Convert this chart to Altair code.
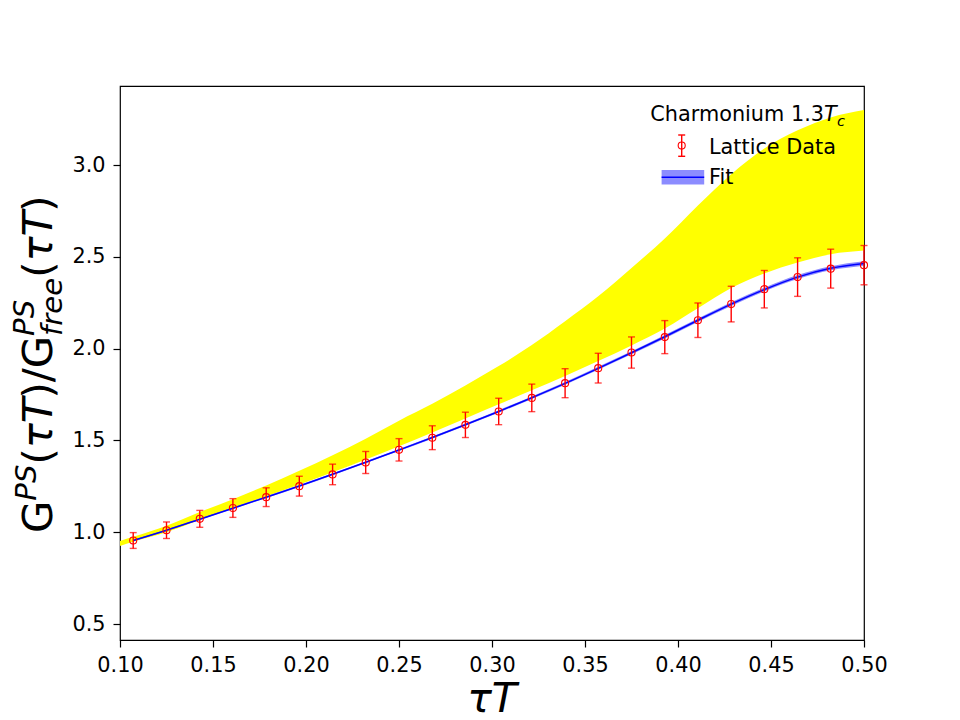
import altair as alt
import pandas as pd

# ---------------- data ----------------
tau = [0.1071, 0.1250, 0.1429, 0.1607, 0.1786, 0.1964, 0.2143, 0.2321, 0.2500,
       0.2679, 0.2857, 0.3036, 0.3214, 0.3393, 0.3571, 0.3750, 0.3929, 0.4107,
       0.4286, 0.4464, 0.4643, 0.4821, 0.5000]
g_ratio = [0.955, 1.011, 1.073, 1.132, 1.191, 1.251, 1.315, 1.380, 1.449, 1.515,
           1.585, 1.658, 1.732, 1.812, 1.894, 1.979, 2.063, 2.155, 2.243, 2.324,
           2.390, 2.436, 2.455]
g_err = [0.043, 0.045, 0.046, 0.051, 0.051, 0.054, 0.056, 0.060, 0.061, 0.065,
         0.069, 0.072, 0.075, 0.079, 0.081, 0.085, 0.090, 0.094, 0.097, 0.102,
         0.105, 0.106, 0.107]
fit_val = [0.955, 1.011, 1.071, 1.131, 1.191, 1.252, 1.316, 1.381, 1.448, 1.516,
           1.586, 1.658, 1.733, 1.811, 1.893, 1.978, 2.065, 2.155, 2.243, 2.322,
           2.390, 2.438, 2.464]
fit_err = [0.004, 0.004, 0.004, 0.004, 0.005, 0.005, 0.005, 0.005, 0.006, 0.006,
           0.006, 0.007, 0.007, 0.007, 0.008, 0.008, 0.009, 0.009, 0.010, 0.010,
           0.011, 0.011, 0.012]
band_tau = [0.1000] + tau
band_lo = [0.925, 0.948, 1.000, 1.068, 1.133, 1.196, 1.260, 1.327, 1.396, 1.468,
           1.543, 1.620, 1.697, 1.773, 1.851, 1.933, 2.018, 2.110, 2.220, 2.330,
           2.410, 2.470, 2.515, 2.535]
band_hi = [0.953, 0.975, 1.035, 1.110, 1.180, 1.255, 1.335, 1.420, 1.510, 1.608,
           1.700, 1.800, 1.905, 2.020, 2.150, 2.285, 2.440, 2.600, 2.780, 2.950,
           3.090, 3.190, 3.260, 3.300]
x_ticks = [0.10, 0.15, 0.20, 0.25, 0.30, 0.35, 0.40, 0.45, 0.50]
y_ticks = [0.5, 1.0, 1.5, 2.0, 2.5, 3.0]
legend_title = "Charmonium 1.3"
legend_labels = ["Lattice Data", "Fit"]

# ---------------- tables ----------------
pts = pd.DataFrame({"tau": tau, "g": g_ratio, "err": g_err})
pts["lo"] = pts["g"] - pts["err"]
pts["hi"] = pts["g"] + pts["err"]
fit = pd.DataFrame({"tau": tau, "fit": fit_val, "e": fit_err})
fit["lo"] = fit["fit"] - fit["e"]
fit["hi"] = fit["fit"] + fit["e"]
band = pd.DataFrame({"tau": band_tau, "lo": band_lo, "hi": band_hi})
one = pd.DataFrame({"k": [0]})

FONT = "DejaVu Sans"
W, H = 744, 554
xs = alt.Scale(domain=[0.1, 0.5], nice=False, zero=False)
ys = alt.Scale(domain=[0.413, 3.431], nice=False, zero=False)

xax = alt.Axis(values=x_ticks, format=".2f", grid=False, domain=False,
               tickSize=7, tickWidth=1.2, tickColor="black",
               labelFont=FONT, labelFontSize=20.8, labelColor="black",
               labelPadding=8, labelFlush=False, labelOverlap=False)
yax = alt.Axis(values=y_ticks, format=".1f", grid=False, domain=False,
               tickSize=7, tickWidth=1.2, tickColor="black",
               labelFont=FONT, labelFontSize=20.8, labelColor="black",
               labelPadding=8, labelOverlap=False)

X = lambda f: alt.X(f"{f}:Q", scale=xs, axis=xax, title=None)
Y = lambda f: alt.Y(f"{f}:Q", scale=ys, axis=yax, title=None)

yellow = alt.Chart(band).mark_area(color="#ffff00", opacity=1,
                                   interpolate="monotone").encode(
    x=X("tau"), y=Y("hi"), y2="lo")
fitband = alt.Chart(fit).mark_area(color="#0000ff", opacity=0.45,
                                   interpolate="monotone").encode(
    x=X("tau"), y=Y("hi"), y2="lo")
fitline = alt.Chart(fit).mark_line(color="#0000ff", strokeWidth=1.5,
                                   interpolate="monotone").encode(
    x=X("tau"), y=Y("fit"))
ebar = alt.Chart(pts).mark_rule(color="#ff0000", strokeWidth=1.4).encode(
    x=X("tau"), y=Y("lo"), y2="hi")
cap_lo = alt.Chart(pts).mark_tick(color="#ff0000", orient="horizontal",
                                  size=7, thickness=1.4).encode(
    x=X("tau"), y=Y("lo"))
cap_hi = alt.Chart(pts).mark_tick(color="#ff0000", orient="horizontal",
                                  size=7, thickness=1.4).encode(
    x=X("tau"), y=Y("hi"))
points = alt.Chart(pts).mark_point(shape="circle", filled=False, color="#ff0000",
                                   size=50, strokeWidth=1.1, opacity=1).encode(
    x=X("tau"), y=Y("g"))

# ---------------- text helpers ----------------
def txt(s, x, y, size, style="normal", align="left", angle=0):
    return alt.Chart(one).mark_text(
        font=FONT, fontSize=size, fontStyle=style, align=align,
        baseline="alphabetic", color="black", angle=angle
    ).encode(x=alt.value(x), y=alt.value(y), text=alt.value(s))

# x title
xtitle = txt("τT", W / 2, 626, 41, style="italic", align="center")

# y title: G^{PS}(τT)/G^{PS}_{free}(τT), rotated
big, small = 41.7, 29.2
em = {"G": .775, "P": .603, "S": .635, "(": .390, ")": .390, "/": .337,
      "f": .352, "r": .411, "e": .615, "τ": .58, "T": .611}
wid = lambda s, sz: sum(em[c] for c in s) * sz
base_x, sup_x, sub_x = -68, -84, -58
ypos = 447.0
ytitle_layers = []
for s, kind, style in [("G", "main", "normal"), ("PS", "sup", "italic"),
                       ("(", "main", "normal"), ("τT", "main", "italic"),
                       (")/G", "main", "normal"), ("PS|free", "supsub", ""),
                       ("(", "main", "normal"), ("τT", "main", "italic"),
                       (")", "main", "normal")]:
    if kind == "main":
        ytitle_layers.append(txt(s, base_x, ypos, big, style, angle=270))
        ypos -= wid(s, big)
    elif kind == "sup":
        ytitle_layers.append(txt(s, sup_x, ypos, small, style, angle=270))
        ypos -= wid(s, small)
    else:
        sp, sb = s.split("|")
        ytitle_layers.append(txt(sp, sup_x - 2, ypos, small, "italic", angle=270))
        ytitle_layers.append(txt(sb, sub_x, ypos, small, "italic", angle=270))
        ypos -= max(wid(sp, small), wid(sb, small))

# legend
leg = [
    txt(legend_title, 704, 35.3, 20.8, align="right"),
    txt("T", 704, 35.3, 20.8, style="italic"),
    txt("c", 717, 39.8, 14.6, style="italic"),
    txt(legend_labels[0], 589, 67.6, 20.8),
    txt(legend_labels[1], 589, 98.2, 20.8),
    alt.Chart(one).mark_rule(color="#ff0000", strokeWidth=1.4).encode(
        x=alt.value(561.7), y=alt.value(49), y2=alt.value(70.3)),
    alt.Chart(one).mark_rule(color="#ff0000", strokeWidth=1.4).encode(
        x=alt.value(558.2), x2=alt.value(565.2), y=alt.value(49)),
    alt.Chart(one).mark_rule(color="#ff0000", strokeWidth=1.4).encode(
        x=alt.value(558.2), x2=alt.value(565.2), y=alt.value(70.3)),
    alt.Chart(one).mark_point(shape="circle", filled=False, color="#ff0000",
                              size=50, strokeWidth=1.1, opacity=1).encode(
        x=alt.value(561.7), y=alt.value(59.6)),
    alt.Chart(one).mark_rect(color="#0000ff", opacity=0.45).encode(
        x=alt.value(541.6), x2=alt.value(584.2), y=alt.value(84), y2=alt.value(98.6)),
    alt.Chart(one).mark_rule(color="#0000ff", strokeWidth=1.5).encode(
        x=alt.value(541.6), x2=alt.value(584.2), y=alt.value(91.3)),
]

chart = alt.layer(yellow, fitband, fitline, ebar, cap_lo, cap_hi, points,
                  xtitle, *ytitle_layers, *leg).properties(
    width=W, height=H,
    autosize=alt.AutoSizeParams(type="none"),
    padding={"left": 120, "top": 86, "right": 96, "bottom": 80},
    background="white",
).configure_view(stroke="black", strokeWidth=1.2)

chart.save("out.html", embed_options={"renderer": "svg", "actions": False})
